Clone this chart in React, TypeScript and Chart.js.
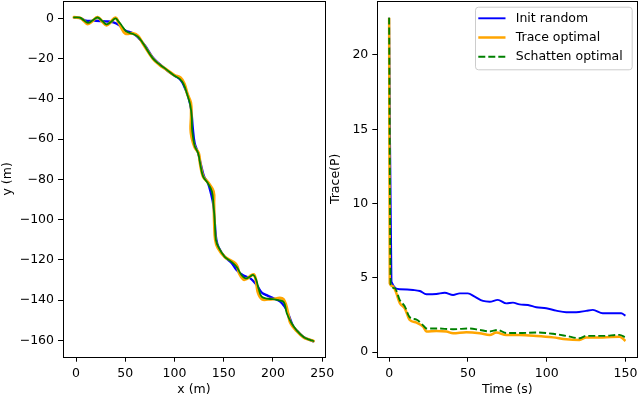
import React, { useEffect, useRef } from 'react';
import { Chart, registerables } from 'chart.js';

Chart.register(...registerables);

const FONT = 'DejaVu Sans';
const FS = 12.5;

// ---- Left plot: trajectories (x, y in metres) ----
const blueX = [-2, 5, 10, 20, 30, 38, 44, 50, 58, 63, 70, 78, 85, 92, 100, 106, 110, 114, 117, 118.5, 120.5, 124, 127, 130, 134, 137, 139.5, 141, 142.5, 145, 151, 158, 163, 170, 177, 183.5, 188.5, 193.5, 200, 207, 212, 216, 220.6, 225, 231, 236, 241];
const blueY = [0.5, 0, -1.2, -1.2, -1.5, -2, -3.5, -6, -7.5, -9.5, -13.5, -19.5, -22.8, -25.7, -28.5, -30.5, -34, -39, -45.6, -54, -62, -67, -73, -78.5, -82, -87, -93, -102, -110, -114, -118.5, -121.5, -125, -127.8, -129.2, -132.5, -136.2, -137.5, -139, -140.6, -143.3, -147.5, -153, -155.5, -158.3, -159.5, -160.5];

const greenX = [-2, 4, 8, 12, 17, 22, 27, 31, 35, 40, 43, 46, 51, 58, 63, 68, 78, 85, 92, 100, 105, 109, 113, 116, 117.5, 118, 120.5, 124, 126, 129, 134, 138, 139.5, 141, 142, 144.5, 151, 158, 163, 168, 172, 176, 180, 183, 185.5, 188.5, 194, 200, 205.4, 211, 214, 218.9, 224, 231, 236, 241];
const greenY = [0.5, 0.3, -1, -2.2, -1, 0.4, -1.5, -3, -2, 0, -1.5, -3.3, -6.5, -7.8, -9.2, -12.4, -19.9, -23, -25.5, -28.5, -30, -32.5, -38, -43, -49, -56, -63.5, -67, -72, -78.5, -82, -86, -92, -102, -110, -113.5, -118.5, -121, -123.4, -127.5, -129.2, -128.5, -127.5, -130, -134.5, -138.3, -139.3, -139.5, -140, -141, -146.5, -151.5, -155, -158.3, -159.5, -160.3];

const orangeX = [-2, 4, 8, 12, 17, 22, 27, 31, 35, 40, 43, 46, 50, 58, 63, 68, 78, 85, 92, 100, 106, 110, 113, 116.5, 117, 116.5, 117.5, 120.5, 124.5, 126, 129, 134, 139.5, 140, 140.5, 141.5, 144, 151, 158, 163, 166, 169.9, 173, 178.4, 181, 183, 185, 189, 195, 200, 207, 210.5, 213.2, 215.6, 218, 224, 231, 236, 241];
const orangeY = [0.5, 0.2, -1.2, -2.8, -1.2, 0.5, -1.8, -3.4, -2, 0.3, -1.8, -4.5, -7.5, -7.5, -8.8, -12.6, -20, -23.2, -25.5, -28.3, -29.5, -32.5, -37.5, -42, -48, -55, -59, -64, -67, -72, -78.5, -81.5, -86, -92, -102, -110, -114, -118.5, -120.5, -122.5, -127, -129.7, -129.5, -127.6, -127.5, -131, -136.5, -139.5, -139.6, -139.5, -139, -139.5, -142.5, -147.4, -151.5, -155.3, -158.5, -159.5, -160.3];

const leftXTicks = [0, 50, 100, 150, 200, 250];
const leftYTicks = [0, -20, -40, -60, -80, -100, -120, -140, -160];

// ---- Right plot: Trace(P) over time ----
const tBlue = [0, 1.5, 6.8, 15.2, 19.5, 23.7, 30, 35.3, 40.6, 44.8, 50, 54.3, 59.6, 63.8, 69, 74.4, 78.6, 82.8, 88.1, 93.4, 99.7, 106, 112.4, 118.7, 125, 129.3, 135.6, 142, 147.3, 150];
const vBlue = [22.5, 4.75, 4.24, 4.19, 4.12, 3.9, 3.92, 4.0, 3.85, 3.96, 3.96, 3.74, 3.45, 3.4, 3.52, 3.29, 3.34, 3.22, 3.18, 3.03, 2.96, 2.8, 2.69, 2.69, 2.78, 2.85, 2.62, 2.62, 2.62, 2.46];

const tOrange = [0, 0.4, 2.1, 4.2, 6.8, 9.9, 13.1, 17.4, 21.6, 23.7, 30, 36.4, 40.6, 49, 57.5, 63.8, 68, 74.4, 82.8, 93.4, 104, 112.4, 120.8, 125, 135.6, 146.2, 150];
const vOrange = [22.5, 4.64, 4.46, 4.08, 3.3, 2.96, 2.17, 1.99, 1.72, 1.39, 1.43, 1.39, 1.28, 1.35, 1.28, 1.16, 1.32, 1.16, 1.16, 1.1, 1.0, 0.87, 0.83, 1.0, 0.99, 1.05, 0.76];

const tGreen = [0, 1, 3.6, 6.8, 9.9, 13.1, 17.4, 21.6, 23.7, 30, 40.6, 51.2, 57.5, 63.8, 69, 74.4, 82.8, 93.4, 104, 112.4, 120.8, 125, 135.6, 146.2, 150];
const vGreen = [22.5, 4.57, 4.3, 3.5, 3.1, 2.35, 2.2, 1.81, 1.6, 1.6, 1.55, 1.6, 1.5, 1.4, 1.5, 1.29, 1.29, 1.33, 1.24, 1.1, 0.94, 1.1, 1.1, 1.17, 1.0];

const rightXTicks = [0, 50, 100, 150];
const rightYTicks = [0, 5, 10, 15, 20];

const seriesNames = ['Init random', 'Trace optimal', 'Schatten optimal'];
const seriesColors = ['#0000ff', '#ffa500', '#008000'];

function fmt(v: number): string {
  return v < 0 ? '\u2212' + Math.abs(v) : String(v);
}
function pts(xs: number[], ys: number[]) {
  return xs.map((x, i) => ({ x, y: ys[i] }));
}

const spines = {
  id: 'spines',
  afterDatasetsDraw(chart: any) {
    const { ctx, chartArea: a } = chart;
    ctx.save();
    ctx.strokeStyle = '#000';
    ctx.lineWidth = 1;
    ctx.strokeRect(Math.round(a.left) + 0.5, Math.round(a.top) + 0.5, Math.round(a.right - a.left), Math.round(a.bottom - a.top));
    ctx.restore();
  },
};

function scaleOpts(axis: 'x' | 'y', min: number, max: number, ticks: number[], title: string, size: number, titlePad: any) {
  return {
    type: 'linear',
    min,
    max,
    afterBuildTicks(scale: any) {
      scale.ticks = ticks.map((v) => ({ value: v }));
    },
    afterFit(scale: any) {
      if (axis === 'x') scale.height = size;
      else scale.width = size;
      scale.paddingLeft = 0;
      scale.paddingRight = 0;
      scale.paddingTop = 0;
      scale.paddingBottom = 0;
    },
    border: { display: false },
    grid: {
      display: true,
      drawOnChartArea: false,
      drawTicks: true,
      tickLength: 5,
      tickWidth: 1,
      color: '#000',
    },
    ticks: {
      color: '#000',
      font: { family: FONT, size: FS },
      padding: axis === 'x' ? 5 : 4,
      maxRotation: 0,
      autoSkip: false,
      callback: (v: number) => fmt(v),
    },
    title: {
      display: true,
      text: title,
      color: '#000',
      font: { family: FONT, size: FS, lineHeight: 1.2 },
      padding: titlePad,
    },
  };
}

function LeftChart() {
  const ref = useRef<HTMLCanvasElement>(null);
  useEffect(() => {
    const ds = [
      { label: seriesNames[0], data: pts(blueX, blueY), borderColor: seriesColors[0], borderWidth: 2.3, order: 3 },
      { label: seriesNames[1], data: pts(orangeX, orangeY), borderColor: seriesColors[1], borderWidth: 3, order: 2 },
      { label: seriesNames[2], data: pts(greenX, greenY), borderColor: seriesColors[2], borderWidth: 1.8, order: 1 },
    ].map((d) => ({ ...d, showLine: true, pointRadius: 0, fill: false, tension: 0.4, borderCapStyle: 'round', borderJoinStyle: 'round' }));
    const chart = new Chart(ref.current as HTMLCanvasElement, {
      type: 'scatter',
      data: { datasets: ds as any },
      options: {
        animation: false,
        responsive: false,
        events: [],
        layout: { padding: { top: 1, right: 15, left: 0, bottom: 0 } },
        plugins: { legend: { display: false }, tooltip: { enabled: false } },
        scales: {
          x: scaleOpts('x', -13.2, 252.8, leftXTicks, 'x (m)', 41.3, { top: 0, bottom: 0.5 }) as any,
          y: scaleOpts('y', -168.1, 8.6, leftYTicks, 'y (m)', 63, { top: 0, bottom: 0 }) as any,
        },
      },
      plugins: [spines],
    });
    return () => chart.destroy();
  }, []);
  return <canvas ref={ref} width={340} height={398} style={{ position: 'absolute', left: 0, top: 0 }} />;
}

const RIGHT_LEFT = 326;

const legendBox = {
  id: 'legendBox',
  afterDraw(chart: any) {
    const ctx = chart.ctx;
    const x0 = 475 - RIGHT_LEFT;
    const y0 = 6.7;
    const w = 631.7 - 475;
    const h = 69.3 - 6.7;
    ctx.save();
    ctx.beginPath();
    ctx.roundRect(x0 + 0.5, y0 + 0.5, w, h, 3);
    ctx.fillStyle = 'rgba(255,255,255,0.8)';
    ctx.fill();
    ctx.strokeStyle = '#cccccc';
    ctx.lineWidth = 1;
    ctx.stroke();
    const rows = [18.3, 37.5, 56.7];
    const widths = [1.9, 2.5, 1.9];
    for (let i = 0; i < 3; i++) {
      ctx.beginPath();
      ctx.strokeStyle = seriesColors[i];
      ctx.lineWidth = widths[i];
      ctx.setLineDash(i === 2 ? [7, 3] : []);
      ctx.moveTo(478.3 - RIGHT_LEFT, rows[i]);
      ctx.lineTo(505.5 - RIGHT_LEFT, rows[i]);
      ctx.stroke();
      ctx.setLineDash([]);
      ctx.fillStyle = '#000';
      ctx.font = `${FS}px "${FONT}"`;
      ctx.textBaseline = 'middle';
      ctx.textAlign = 'left';
      ctx.fillText(seriesNames[i], 515.7 - RIGHT_LEFT, rows[i]);
    }
    ctx.restore();
  },
};

function RightChart() {
  const ref = useRef<HTMLCanvasElement>(null);
  useEffect(() => {
    const ds = [
      { label: seriesNames[0], data: pts(tBlue, vBlue), borderColor: seriesColors[0], borderWidth: 1.9, order: 3 },
      { label: seriesNames[1], data: pts(tOrange, vOrange), borderColor: seriesColors[1], borderWidth: 2.5, order: 2 },
      { label: seriesNames[2], data: pts(tGreen, vGreen), borderColor: seriesColors[2], borderWidth: 1.9, borderDash: [7, 3], order: 1 },
    ].map((d) => ({ ...d, showLine: true, pointRadius: 0, fill: false, cubicInterpolationMode: 'monotone' }));
    const chart = new Chart(ref.current as HTMLCanvasElement, {
      type: 'scatter',
      data: { datasets: ds as any },
      options: {
        animation: false,
        responsive: false,
        events: [],
        layout: { padding: { top: 1, right: 2.7, left: 0, bottom: 0 } },
        plugins: { legend: { display: false }, tooltip: { enabled: false } },
        scales: {
          x: scaleOpts('x', -7.5, 157.5, rightXTicks, 'Time (s)', 41.3, { top: 0, bottom: 0.5 }) as any,
          y: scaleOpts('y', -0.3, 23.63, rightYTicks, 'Trace(P)', 51.3, { top: 2.5, bottom: 0 }) as any,
        },
      },
      plugins: [spines, legendBox],
    });
    return () => chart.destroy();
  }, []);
  return <canvas ref={ref} width={640 - RIGHT_LEFT} height={398} style={{ position: 'absolute', left: RIGHT_LEFT, top: 0 }} />;
}

export default function App() {
  return (
    <div style={{ position: 'absolute', left: 0, top: 0, width: 640, height: 398, background: '#fff', overflow: 'hidden' }}>
      <LeftChart />
      <RightChart />
    </div>
  );
}
